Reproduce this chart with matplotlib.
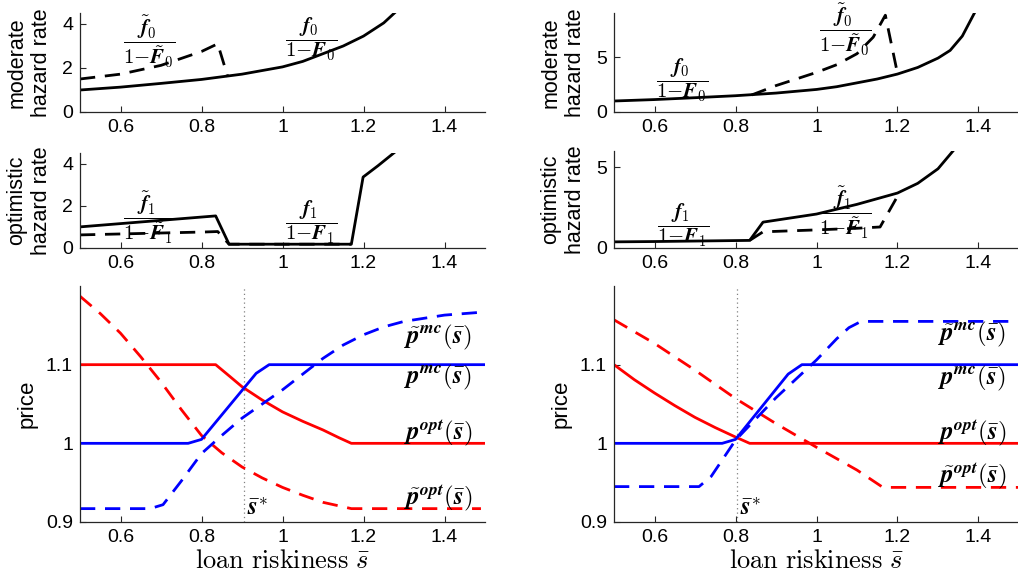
import matplotlib
matplotlib.use("Agg")
import matplotlib.pyplot as plt
from matplotlib.mathtext import MathTextParser

plt.rcParams['font.family'] = ['Liberation Sans', 'DejaVu Sans']
plt.rcParams['mathtext.fontset'] = 'cm'

# ---------------- data ----------------
# moderate hazard rate (true), shared by both columns
mod_x = [0.5, 0.6, 0.7, 0.8, 0.9, 1.0, 1.05, 1.1, 1.15, 1.2, 1.25, 1.3, 1.33, 1.36, 1.39]
mod_y = [1.0, 1.13, 1.3, 1.48, 1.72, 2.05, 2.3, 2.65, 3.0, 3.45, 4.05, 4.9, 5.6, 6.9, 9.0]

# left column, moderate perceived (dashed)
L_mod_tilde_x = [0.5, 0.6, 0.7, 0.8, 0.84, 0.865]
L_mod_tilde_y = [1.5, 1.72, 2.12, 2.75, 3.1, 1.6]

# left column, optimistic true (solid) and perceived (dashed)
L_opt_x = [0.5, 0.835, 0.868, 1.17, 1.199, 1.236, 1.278]
L_opt_y = [1.0, 1.52, 0.18, 0.18, 3.36, 3.9, 4.55]
L_opt_tilde_x = [0.5, 0.81, 0.84, 0.868, 1.17]
L_opt_tilde_y = [0.62, 0.76, 0.78, 0.18, 0.18]

# right column, moderate perceived (dashed)
R_mod_tilde_x = [0.84, 0.9, 0.95, 1.0, 1.05, 1.1, 1.14, 1.17, 1.2]
R_mod_tilde_y = [1.55, 2.4, 3.0, 3.6, 4.3, 5.3, 6.8, 8.8, 3.5]

# right column, optimistic true (solid) and perceived (dashed)
R_opt_x = [0.5, 0.6, 0.7, 0.835, 0.868, 1.0, 1.1, 1.2, 1.25, 1.3, 1.337]
R_opt_y = [0.38, 0.4, 0.43, 0.47, 1.6, 2.1, 2.7, 3.4, 4.0, 4.9, 6.0]
R_opt_tilde_x = [0.835, 0.868, 1.0, 1.1, 1.157, 1.2]
R_opt_tilde_y = [0.47, 1.0, 1.12, 1.22, 1.3, 3.2]

# bottom-left prices
L_popt_x = [0.5, 0.835, 0.87, 0.9, 0.95, 1.0, 1.05, 1.1, 1.14, 1.17, 1.5]
L_popt_y = [1.1, 1.1, 1.085, 1.072, 1.055, 1.04, 1.028, 1.017, 1.007, 1.0, 1.0]
L_pmc_x = [0.5, 0.767, 0.8, 0.935, 0.967, 1.5]
L_pmc_y = [1.0, 1.0, 1.005, 1.089, 1.1, 1.1]
L_pmc_tilde_x = [0.5, 0.673, 0.705, 0.75, 0.8, 0.85, 0.9, 0.95, 1.0, 1.05, 1.1,
                 1.15, 1.2, 1.25, 1.3, 1.4, 1.5]
L_pmc_tilde_y = [0.917, 0.917, 0.922, 0.952, 0.987, 1.01, 1.032, 1.05, 1.068, 1.088, 1.108,
                 1.125, 1.138, 1.148, 1.155, 1.163, 1.167]
L_popt_tilde_x = [0.5, 0.55, 0.6, 0.65, 0.7, 0.75, 0.8, 0.85, 0.9, 0.95, 1.0, 1.05,
                  1.1, 1.17, 1.49]
L_popt_tilde_y = [1.187, 1.165, 1.14, 1.11, 1.078, 1.043, 1.01, 0.988, 0.97, 0.956, 0.944, 0.934,
                  0.925, 0.917, 0.917]
L_sstar = 0.905

# bottom-right prices
R_popt_x = [0.5, 0.55, 0.6, 0.65, 0.7, 0.75, 0.8, 0.835, 1.5]
R_popt_y = [1.1, 1.081, 1.064, 1.048, 1.033, 1.02, 1.008, 1.0, 1.0]
R_pmc_x = [0.5, 0.767, 0.8, 0.93, 0.964, 1.5]
R_pmc_y = [1.0, 1.0, 1.005, 1.088, 1.1, 1.1]
R_pmc_tilde_x = [0.5, 0.71, 0.74, 0.8, 0.9, 1.0, 1.05, 1.08, 1.11, 1.5]
R_pmc_tilde_y = [0.945, 0.945, 0.958, 1.004, 1.058, 1.106, 1.133, 1.147, 1.155, 1.155]
R_popt_tilde_x = [0.5, 0.6, 0.7, 0.8, 0.9, 1.0, 1.1, 1.164, 1.5]
R_popt_tilde_y = [1.157, 1.127, 1.093, 1.057, 1.025, 0.995, 0.966, 0.944, 0.944]
R_sstar = 0.804

xticks = [0.6, 0.8, 1.0, 1.2, 1.4]
xticklabels = ['0.6', '0.8', '1', '1.2', '1.4']

# ---------------- helpers ----------------
_parser = MathTextParser('path')

def _ok(s):
    try:
        _parser.parse(s, dpi=100)
        return True
    except Exception:
        return False

BOLD = _ok(r'$\boldsymbol{f}$')

def B(s):
    return r'\boldsymbol{' + s + '}' if BOLD else s

def hz_frac(sub, tilde):
    f = B('f')
    F = B('F')
    if tilde:
        f = r'\tilde{' + f + '}'
        F = r'\tilde{' + F + '}'
    num = f + '_{' + B(sub) + '}'
    den = B('1') + B('-') + F + '_{' + B(sub) + '}'
    s = r'$\dfrac{' + num + '}{' + den + '}$'
    if not _ok(s):
        s = s.replace(r'\dfrac', r'\frac')
    return s

def p_lab(sup, tilde):
    p = B('p')
    if tilde:
        p = r'\tilde{' + p + '}'
    return '$' + p + '^{' + B(sup) + r'}(\bar{' + B('s') + '})$'

# ---------------- figure ----------------
W, H = 1018, 580
fig = plt.figure(figsize=(W / 100, H / 100), dpi=100)

def px_axes(x0, y0, x1, y1):
    return fig.add_axes([x0 / W, 1 - y1 / H, (x1 - x0) / W, (y1 - y0) / H])

LW = 2.0
DASH = (0, (5.5, 3.5))
TICKFS = 14
LABFS = 15.5

def style(ax, ylim, yticks, yticklabels):
    ax.set_xlim(0.5, 1.5)
    ax.set_ylim(*ylim)
    ax.set_xticks(xticks)
    ax.set_xticklabels(xticklabels)
    ax.set_yticks(yticks)
    ax.set_yticklabels(yticklabels)
    for s in ['top', 'right']:
        ax.spines[s].set_visible(False)
    for s in ['left', 'bottom']:
        ax.spines[s].set_color('#262626')
        ax.spines[s].set_linewidth(0.9)
    ax.tick_params(direction='in', length=4, width=0.8, colors='#262626',
                   labelsize=TICKFS, labelcolor='black', pad=5)

MFS = 15
YLX = -0.068
YLS = 1.25

# ---- top row ----
ax = px_axes(80, 13, 485, 112)
style(ax, (0, 4.5), [0, 2, 4], ['0', '2', '4'])
ax.plot(mod_x, mod_y, color='black', lw=LW)
ax.plot(L_mod_tilde_x, L_mod_tilde_y, color='black', lw=LW, linestyle=DASH)
ax.text(0.67, 3.2, hz_frac('0', True), fontsize=MFS, ha='center', va='center')
ax.text(1.07, 3.3, hz_frac('0', False), fontsize=MFS, ha='center', va='center')
ax.set_ylabel('moderate\nhazard rate', fontsize=LABFS, linespacing=YLS)
ax.yaxis.set_label_coords(YLX, 0.5)

ax = px_axes(614, 13, 1019, 112)
style(ax, (0, 9), [0, 5], ['0', '5'])
ax.plot(mod_x, mod_y, color='black', lw=LW)
ax.plot(R_mod_tilde_x, R_mod_tilde_y, color='black', lw=LW, linestyle=DASH)
ax.text(0.668, 2.9, hz_frac('0', False), fontsize=MFS, ha='center', va='center')
ax.text(1.07, 7.45, hz_frac('0', True), fontsize=MFS, ha='center', va='center')
ax.set_ylabel('moderate\nhazard rate', fontsize=LABFS, linespacing=YLS)
ax.yaxis.set_label_coords(YLX, 0.5)

# ---- middle row ----
ax = px_axes(80, 153, 485, 248)
style(ax, (0, 4.5), [0, 2, 4], ['0', '2', '4'])
ax.plot(L_opt_x, L_opt_y, color='black', lw=LW)
ax.plot(L_opt_tilde_x, L_opt_tilde_y, color='black', lw=LW, linestyle=DASH)
ax.text(0.67, 1.45, hz_frac('1', True), fontsize=MFS, ha='center', va='center')
ax.text(1.07, 1.2, hz_frac('1', False), fontsize=MFS, ha='center', va='center')
ax.set_ylabel('optimistic\nhazard rate', fontsize=LABFS, linespacing=YLS)
ax.yaxis.set_label_coords(YLX, 0.5)

ax = px_axes(614, 151, 1019, 248)
style(ax, (0, 6), [0, 5], ['0', '5'])
ax.plot(R_opt_x, R_opt_y, color='black', lw=LW)
ax.plot(R_opt_tilde_x, R_opt_tilde_y, color='black', lw=LW, linestyle=DASH)
ax.text(0.67, 1.4, hz_frac('1', False), fontsize=MFS, ha='center', va='center')
ax.text(1.07, 2.15, hz_frac('1', True), fontsize=MFS, ha='center', va='center')
ax.set_ylabel('optimistic\nhazard rate', fontsize=LABFS, linespacing=YLS)
ax.yaxis.set_label_coords(YLX, 0.5)

# ---- bottom row ----
PFS = 18

def price_panel(x0, x1, popt, pmc, pmct, poptt, sstar, ypos):
    ax = px_axes(x0, 286, x1, 522)
    style(ax, (0.9, 1.2), [0.9, 1.0, 1.1], ['0.9', '1', '1.1'])
    ax.axvline(sstar, color='#808080', lw=0.9, linestyle=(0, (1, 2.5)))
    ax.plot(popt[0], popt[1], color='red', lw=LW)
    ax.plot(poptt[0], poptt[1], color='red', lw=LW, linestyle=DASH)
    ax.plot(pmct[0], pmct[1], color='blue', lw=LW, linestyle=DASH)
    ax.plot(pmc[0], pmc[1], color='blue', lw=LW)
    ax.text(sstar + 0.008, 0.918, r'$\bar{' + B('s') + '}^{' + B('*') + '}$',
            fontsize=PFS, ha='left', va='center')
    labs = [p_lab('mc', True), p_lab('mc', False), p_lab('opt', False), p_lab('opt', True)]
    for lab, y in zip(labs, ypos):
        ax.text(1.298, y, lab, fontsize=PFS, ha='left', va='center')
    ax.set_ylabel('price', fontsize=LABFS + 0.5)
    ax.yaxis.set_label_coords(-0.105, 0.5)
    ax.set_xlabel(r'$\mathrm{loan\ riskiness}\ \bar{s}$', fontsize=19, labelpad=2)
    return ax

price_panel(80, 485, (L_popt_x, L_popt_y), (L_pmc_x, L_pmc_y),
            (L_pmc_tilde_x, L_pmc_tilde_y), (L_popt_tilde_x, L_popt_tilde_y),
            L_sstar, [1.135, 1.084, 1.014, 0.931])
price_panel(614, 1019, (R_popt_x, R_popt_y), (R_pmc_x, R_pmc_y),
            (R_pmc_tilde_x, R_pmc_tilde_y), (R_popt_tilde_x, R_popt_tilde_y),
            R_sstar, [1.138, 1.083, 1.014, 0.959])

fig.savefig('out.png', dpi=100)
